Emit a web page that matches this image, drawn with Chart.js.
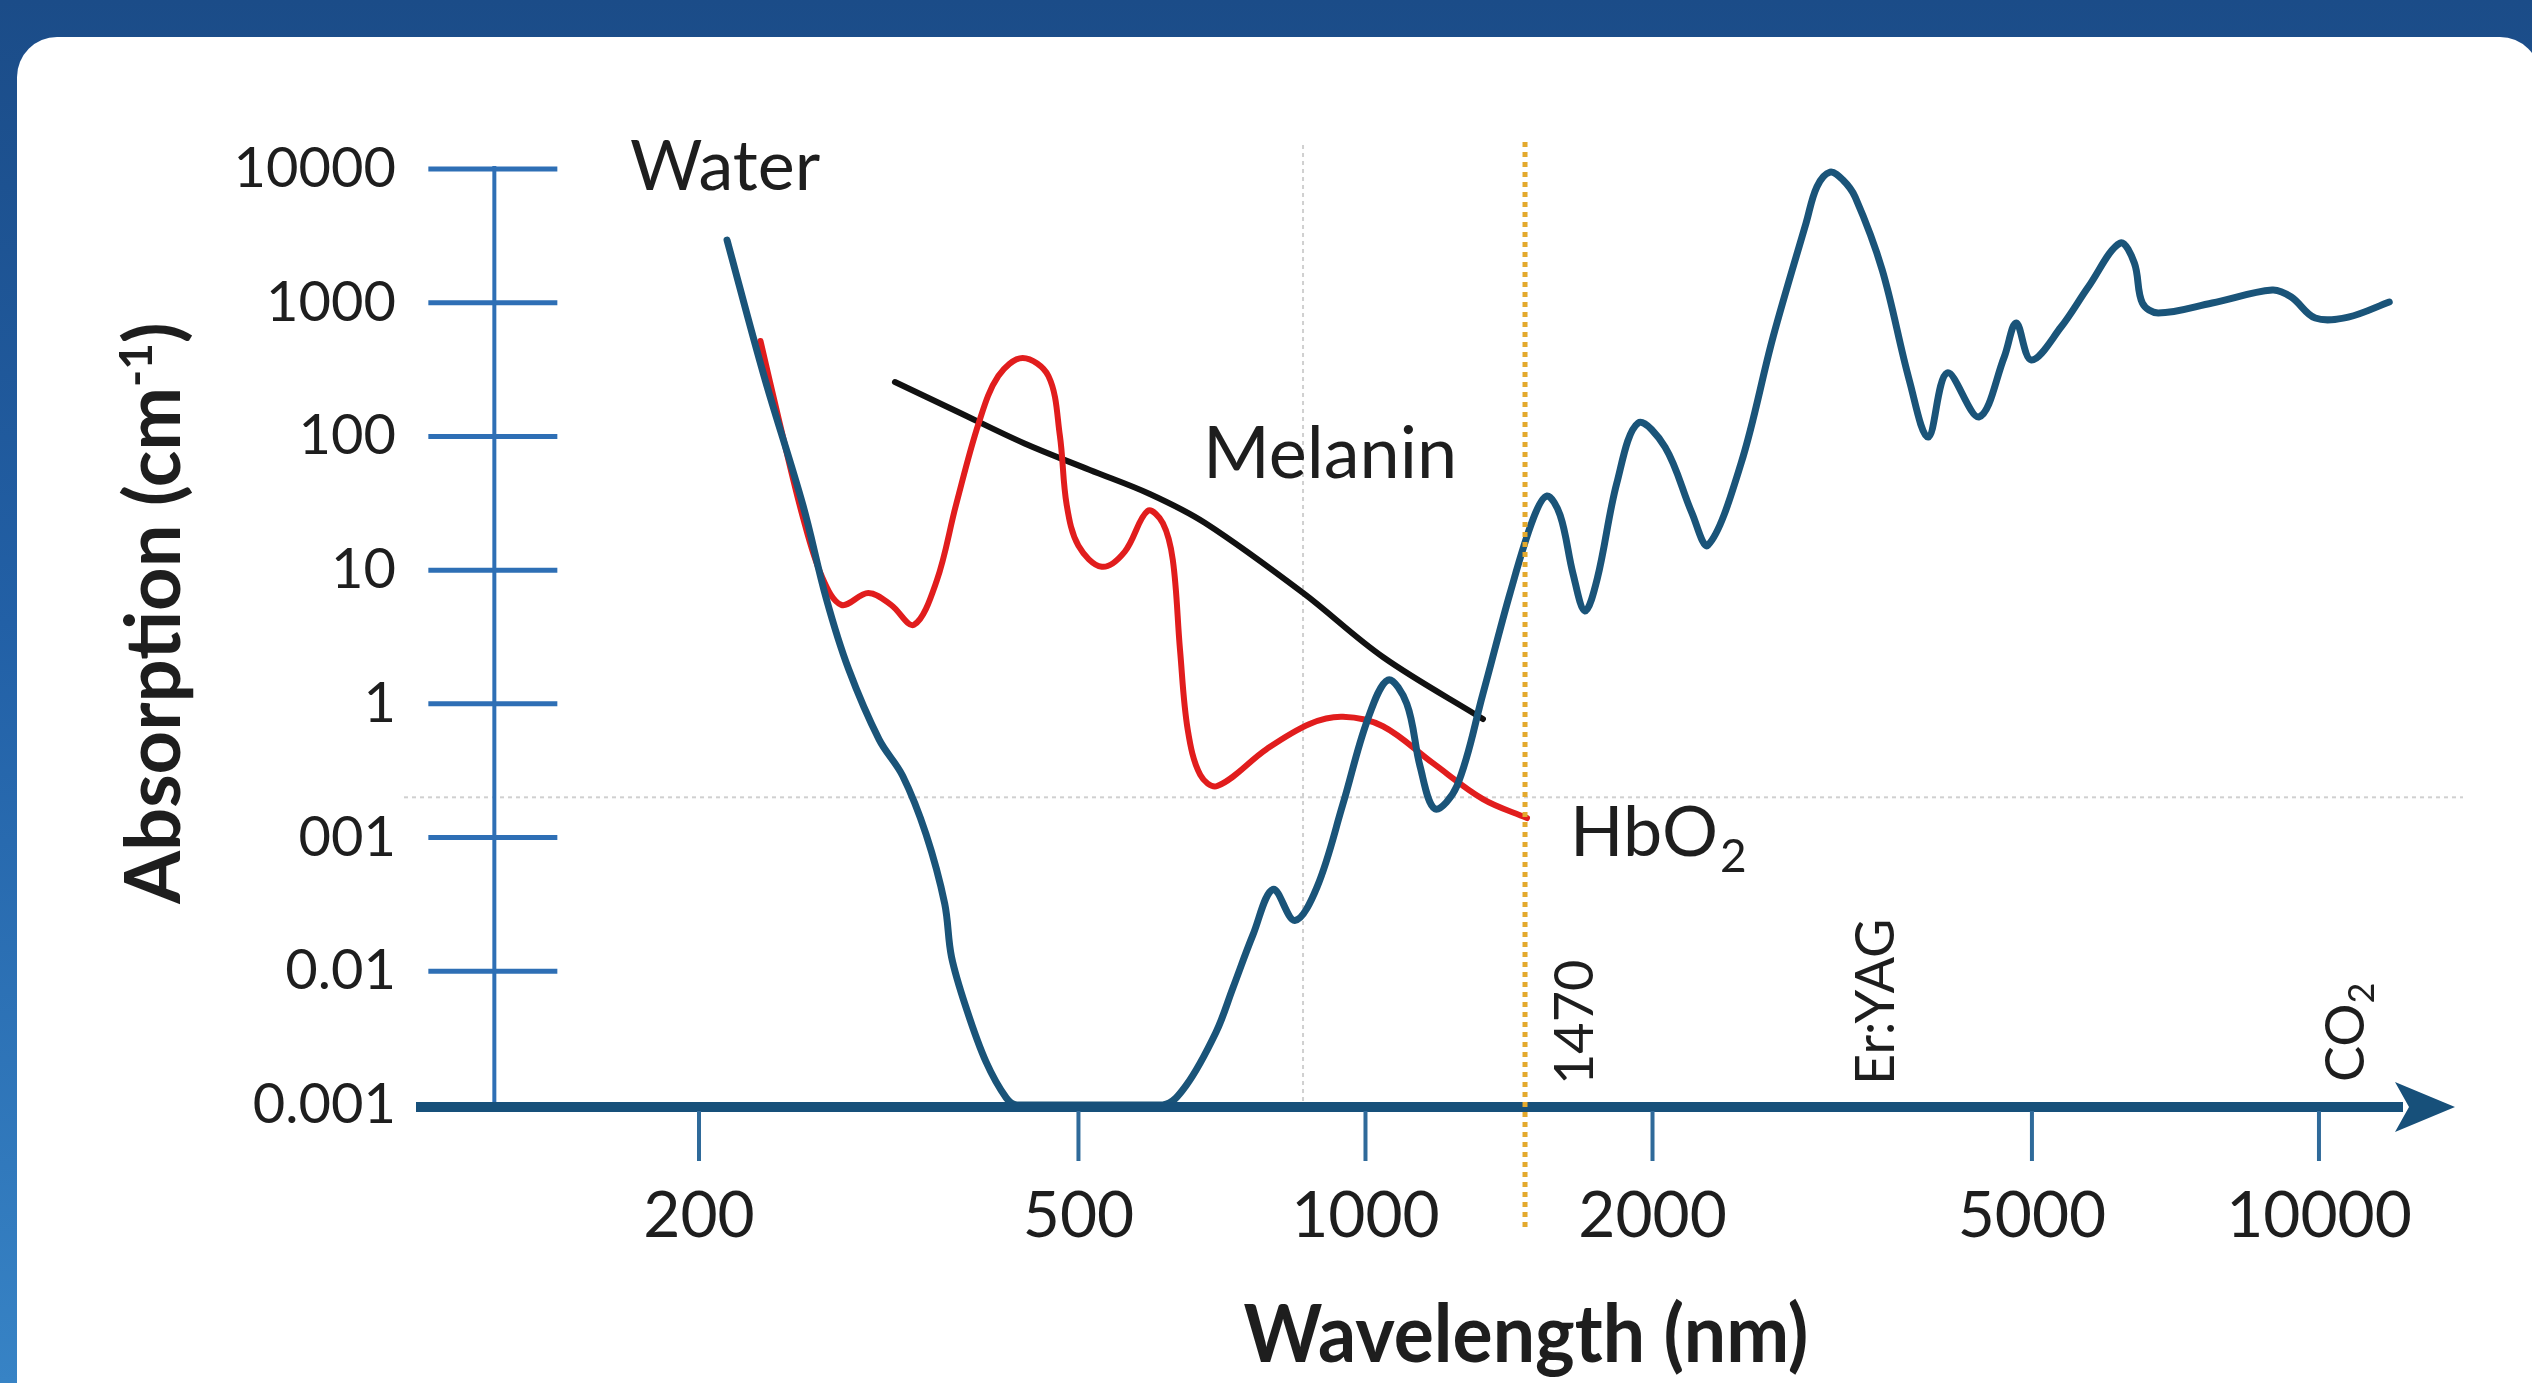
<!DOCTYPE html>
<html>
<head>
<meta charset="utf-8">
<script src="https://cdn.jsdelivr.net/npm/chart.js@4.4.1/dist/chart.umd.min.js"></script>
<style>
  html, body { margin: 0; padding: 0; width: 2532px; height: 1383px; overflow: hidden; }
  body { position: relative; background: linear-gradient(180deg, #1b4c88 0%, #2260a6 45%, #3783c5 100%); }
  .panel { position: absolute; left: 17px; top: 37px; right: -8px; bottom: -60px; background: #fff; border-radius: 40px; }
  canvas { position: absolute; left: 0; top: 0; }
</style>
</head>
<body>
<div class="panel"></div>
<canvas id="myChart" width="2532" height="1383"></canvas>
<script>
// water absorption
const waterNm = [214, 234, 257, 272, 287, 309, 327, 346, 362, 368, 382, 400, 420, 431, 613, 648, 697, 726, 762,
  800, 843, 890, 947, 1004, 1056, 1105, 1141, 1183, 1247, 1328, 1418, 1499, 1550, 1600, 1651, 1699, 1750,
  1835, 1932, 2062, 2200, 2287, 2477, 2676, 2898, 2975, 3071, 3168, 3263, 3483, 3718, 3892, 4074, 4401,
  4676, 4814, 4992, 5364, 5728, 6186, 6403, 6528, 6783, 7727, 8933, 9354, 9911, 10733, 11850];
const waterAbs = [2940, 283, 30.7, 6.1, 1.82, 0.54, 0.29, 0.106, 0.032, 0.0128, 0.0051, 0.0021, 0.00113, 0.001, 0.001,
  0.00139, 0.0035, 0.0075, 0.0187, 0.041, 0.024, 0.043, 0.178, 0.745, 1.51, 1.0, 0.34, 0.164, 0.243, 1.19, 6.75,
  24.1, 35.8, 25.8, 9.35, 4.95, 8.6, 44.9, 126, 83, 26.7, 15.4, 63, 554, 3945, 7370, 9480, 8274, 6166, 1756,
  264, 99, 298, 140, 392, 705, 373, 658, 1311, 2795, 1982, 995, 838, 995, 1245, 1103, 768, 781, 1012];

// HbO2
const hbo2Nm = [232, 243, 257, 269, 282, 301, 318, 336, 355, 372, 393, 412, 437, 465, 478, 486, 500, 529, 559,
  591, 613, 628, 639, 651, 671, 699, 788, 875, 947, 1043, 1177, 1328, 1477];
const hbo2Abs = [517, 126, 24.9, 9.0, 5.5, 6.75, 5.5, 3.9, 8.3, 30.7, 126, 283, 386, 283, 102, 30.7, 15.2, 10.6,
  13.7, 27.7, 22.5, 11.9, 2.53, 0.64, 0.294, 0.243, 0.46, 0.71, 0.80, 0.68, 0.36, 0.194, 0.14];

// melanin
const melaninNm = [321, 372, 439, 514, 594, 679, 860, 1043, 1328];
const melaninAbs = [255, 155, 88.5, 56.1, 37.1, 22.5, 6.75, 2.24, 0.77];

const xTicks = [200, 500, 1000, 2000, 5000, 10000];
const xTickLabels = ["200", "500", "1000", "2000", "5000", "10000"];
const yTicks = [10000, 1000, 100, 10, 1, 0.1, 0.01, 0.001];
const yTickLabels = ["10000", "1000", "100", "10", "1", "001", "0.01", "0.001"];

const laserNm = 1470;

const FONT = "Lato, 'Open Sans', sans-serif";
const TEXT = "#1e1e1e";

function toPoints(xs, ys) {
  return xs.map(function (v, i) { return { x: v, y: ys[i] }; });
}

function line(ctx, x1, y1, x2, y2) {
  ctx.beginPath();
  ctx.moveTo(x1, y1);
  ctx.lineTo(x2, y2);
  ctx.stroke();
}

function upText(ctx, parts, x, y) {
  // text reading bottom to top, starting at (x, y) on the baseline
  ctx.save();
  ctx.translate(x, y);
  ctx.rotate(-Math.PI / 2);
  ctx.textAlign = "left";
  ctx.textBaseline = "alphabetic";
  let off = 0;
  parts.forEach(function (p) {
    ctx.font = p.font;
    ctx.fillText(p.t, off, p.dy || 0);
    off += ctx.measureText(p.t).width;
  });
  ctx.restore();
}

const axisDeco = {
  id: "axisDeco",
  beforeDatasetsDraw(chart) {
    const ctx = chart.ctx, x = chart.scales.x, y = chart.scales.y, a = chart.chartArea;
    ctx.save();
    ctx.strokeStyle = "#d0d0d0";
    ctx.lineWidth = 2;
    ctx.setLineDash([4, 4]);
    const gx = x.getPixelForValue(860);
    line(ctx, gx, a.top - 24, gx, a.bottom);
    const gy = y.getPixelForValue(0.2);
    line(ctx, a.left - 8, gy, a.right + 60, gy);
    ctx.restore();
  },
  afterDatasetsDraw(chart) {
    const ctx = chart.ctx, x = chart.scales.x, y = chart.scales.y, a = chart.chartArea;
    ctx.save();

    // y axis
    const ax = x.getPixelForValue(122);
    ctx.strokeStyle = "#2e6fb5";
    ctx.lineWidth = 4;
    line(ctx, ax, a.top - 3, ax, a.bottom);
    ctx.lineWidth = 5;
    yTicks.forEach(function (v) {
      const py = y.getPixelForValue(v);
      line(ctx, ax - 66, py, ax + 63, py);
    });
    ctx.fillStyle = TEXT;
    ctx.font = "56px " + FONT;
    ctx.textAlign = "right";
    ctx.textBaseline = "middle";
    yTicks.forEach(function (v, i) {
      ctx.fillText(yTickLabels[i], 396, y.getPixelForValue(v));
    });

    // x axis with arrow
    const by = y.getPixelForValue(0.001) + 2;
    ctx.strokeStyle = "#17507a";
    ctx.lineWidth = 10;
    line(ctx, a.left + 4, by, a.right, by);
    ctx.fillStyle = "#17507a";
    ctx.beginPath();
    ctx.moveTo(a.right + 52, by);
    ctx.lineTo(a.right - 8, by - 25);
    ctx.lineTo(a.right + 6, by);
    ctx.lineTo(a.right - 8, by + 25);
    ctx.closePath();
    ctx.fill();
    ctx.strokeStyle = "#2f6a9a";
    ctx.lineWidth = 4;
    xTicks.forEach(function (v) {
      const px = x.getPixelForValue(v);
      line(ctx, px, by + 4, px, by + 54);
    });
    ctx.fillStyle = TEXT;
    ctx.font = "64px " + FONT;
    ctx.textAlign = "center";
    ctx.textBaseline = "middle";
    xTicks.forEach(function (v, i) {
      ctx.fillText(xTickLabels[i], x.getPixelForValue(v), 1216);
    });

    // axis titles
    ctx.font = "bold 80px " + FONT;
    ctx.textBaseline = "alphabetic";
    ctx.fillText("Wavelength (nm)", 1526, 1362, 565);
    const tf = "bold 76px " + FONT, sf = "bold 46px " + FONT;
    ctx.font = tf;
    let w = ctx.measureText("Absorption (cm").width + ctx.measureText(")").width;
    ctx.font = sf;
    w += ctx.measureText("-1").width;
    upText(ctx, [{ t: "Absorption (cm", font: tf }, { t: "-1", font: sf, dy: -28 }, { t: ")", font: tf }], 180, 613 + w / 2);

    // curve names
    ctx.textAlign = "left";
    ctx.font = "70px " + FONT;
    ctx.fillText("Water", 630, 190, 197);
    ctx.font = "72px " + FONT;
    ctx.fillText("Melanin", 1203, 478, 262);
    ctx.font = "70px " + FONT;
    ctx.fillText("HbO", 1570, 856);
    const hw = ctx.measureText("HbO").width;
    ctx.font = "46px " + FONT;
    ctx.fillText("2", 1570 + hw + 2, 872);

    // laser labels
    const lx = x.getPixelForValue(laserNm);
    const f54 = "54px " + FONT, f36 = "36px " + FONT;
    upText(ctx, [{ t: "1470", font: f54 }], lx + 68, 1085);
    upText(ctx, [{ t: "Er:YAG", font: f54 }], 1894, 1085);
    upText(ctx, [{ t: "CO", font: f54 }, { t: "2", font: f36, dy: 10 }], 2364, 1082);

    // 1470 nm marker
    ctx.strokeStyle = "#e3a92e";
    ctx.lineWidth = 5;
    ctx.setLineDash([5, 5]);
    line(ctx, lx, a.top - 27, lx, 1227);
    ctx.restore();
  }
};

const myChart = new Chart(document.getElementById("myChart"), {
  type: "line",
  data: {
    datasets: [
      {
        label: "Water",
        data: toPoints(waterNm, waterAbs),
        borderColor: "#1a5479",
        borderWidth: 7,
      },
      {
        label: "HbO2",
        data: toPoints(hbo2Nm, hbo2Abs),
        borderColor: "#e11d1d",
        borderWidth: 6,
      },
      {
        label: "Melanin",
        data: toPoints(melaninNm, melaninAbs),
        borderColor: "#111111",
        borderWidth: 6,
      },
    ],
  },
  options: {
    responsive: false,
    animation: false,
    devicePixelRatio: 1,
    layout: { padding: { left: 412, right: 129, top: 169, bottom: 278 } },
    elements: {
      point: { radius: 0 },
      line: { tension: 0.35, borderCapStyle: "round", borderJoinStyle: "round" },
    },
    datasets: { line: { clip: 8 } },
    scales: {
      x: { type: "logarithmic", min: 100, max: 12250, display: false },
      y: { type: "logarithmic", min: 0.001, max: 10000, display: false },
    },
    plugins: {
      legend: { display: false },
      tooltip: { enabled: false },
    },
  },
  plugins: [axisDeco],
});
</script>
</body>
</html>
